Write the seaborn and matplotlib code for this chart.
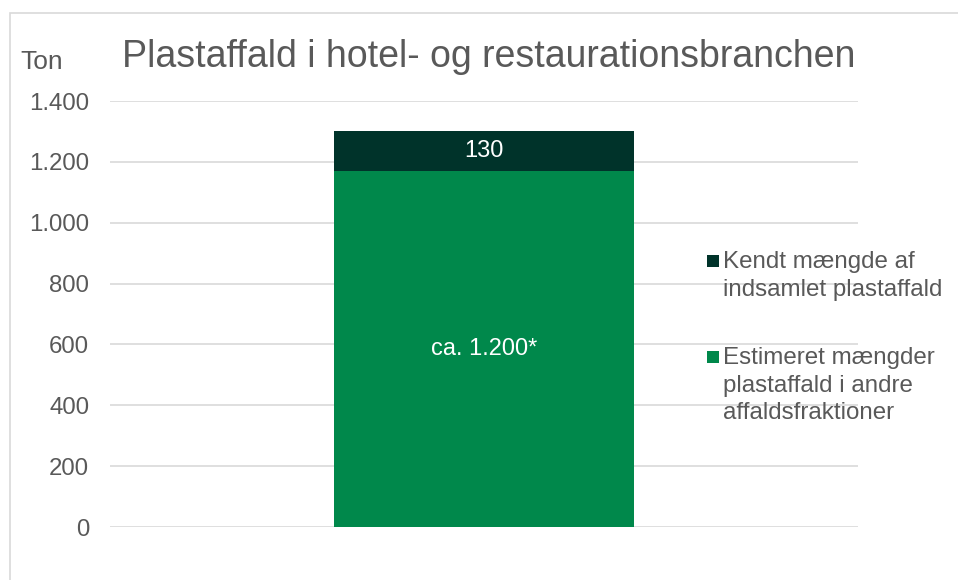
import matplotlib
matplotlib.use("Agg")
import matplotlib.pyplot as plt
import seaborn as sns
import pandas as pd
from matplotlib.patches import Rectangle

categories = ["Hotel og restauration"]
estimated = [1170]
known = [130]
estimated_label = ["ca. 1.200*"]
known_label = ["130"]
yticks = [0, 200, 400, 600, 800, 1000, 1200, 1400]
ytick_labels = ["0", "200", "400", "600", "800", "1.000", "1.200", "1.400"]
series_names = ["Kendt mængde af\nindsamlet plastaffald",
                "Estimeret mængder\nplastaffald i andre\naffaldsfraktioner"]

c_dark = "#00332A"
c_green = "#00884B"
txt = "#595959"

sns.set_theme(style="white")
plt.rcParams["font.family"] = ["Liberation Sans", "DejaVu Sans"]

df = pd.DataFrame({"cat": categories, "est": estimated, "known": known})
df["total"] = df["est"] + df["known"]

fig = plt.figure(figsize=(9.58, 5.8), dpi=100)
ax = fig.add_axes([110/958, 53/580, 748/958, 426/580])

sns.barplot(data=df, x="cat", y="total", color=c_dark, width=0.4, ax=ax,
            saturation=1, edgecolor="none", linewidth=0)
sns.barplot(data=df, x="cat", y="est", color=c_green, width=0.4, ax=ax,
            saturation=1, edgecolor="none", linewidth=0)

for i in range(len(categories)):
    ax.text(i, estimated[i] / 2, estimated_label[i], ha="center", va="center",
            color="white", fontsize=17)
    ax.text(i, estimated[i] + known[i] / 2, known_label[i], ha="center", va="center",
            color="white", fontsize=17)

ax.set_ylim(0, 1400)
ax.set_xlim(-0.5, 0.5)
ax.set_yticks(yticks)
ax.set_yticklabels(ytick_labels, color=txt, fontsize=17.3)
ax.set_xticks([])
ax.set_xlabel("")
ax.set_ylabel("")
ax.tick_params(axis="y", length=0, pad=15)
ax.yaxis.grid(True, color="#D9D9D9", linewidth=1.2)
ax.set_axisbelow(True)
for s in ax.spines.values():
    s.set_visible(False)

fig.text(489/958, 1 - 57/580, "Plastaffald i hotel- og restaurationsbranchen",
         ha="center", va="center", fontsize=27, color=txt)
fig.text(20/958, 1 - 62/580, "Ton", ha="left", va="center", fontsize=19, color=txt)

# legend: square marker aligned with first text line of each entry
legend_colors = [c_dark, c_green]
legend_tops = [251, 347]  # top of text block in px
for name, col, top in zip(series_names, legend_colors, legend_tops):
    fig.patches.append(Rectangle((707/958, 1 - (top + 16)/580), 12/958, 12/580,
                                 transform=fig.transFigure, facecolor=col,
                                 edgecolor="none"))
    fig.text(723/958, 1 - top/580, name, ha="left", va="top", fontsize=17.4,
             color=txt, linespacing=1.33)

fig.patches.append(Rectangle((10/958, -0.1), 1.2, 1.1 - 13/580, transform=fig.transFigure,
                             fill=False, edgecolor="#D9D9D9", linewidth=1.2))

fig.savefig("out.png", dpi=100)
